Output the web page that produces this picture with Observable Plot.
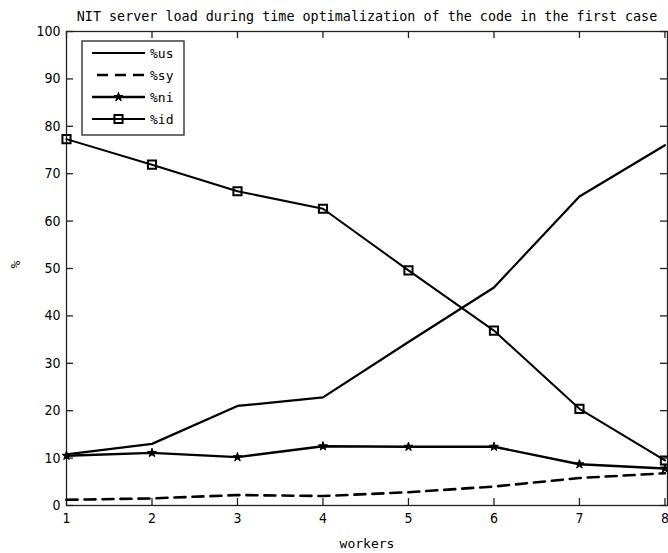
<!DOCTYPE html>
<html>
<head>
<meta charset="utf-8">
<script src="https://cdn.jsdelivr.net/npm/d3@7"></script>
<script src="https://cdn.jsdelivr.net/npm/@observablehq/plot@0.6"></script>
<style>
  html, body { margin: 0; padding: 0; background: #fff; }
  #chart svg { display: block; }
  #chart g[aria-label="x-axis tick label"] text,
  #chart g[aria-label="y-axis tick label"] text { font-family: "Liberation Sans Narrow", "DejaVu Sans Condensed", "Liberation Sans", sans-serif; font-size: 14px; }
  .mono { font-family: "DejaVu Sans Mono", "Liberation Mono", monospace; font-size: 13px; }
</style>
</head>
<body>
<div id="chart"></div>
<script>
// Server load (%) against the number of workers
const workers = [1, 2, 3, 4, 5, 6, 7, 8];
const us = [10.8, 13.0, 21.0, 22.8, 34.5, 46.0, 65.2, 76.0];
const sy = [1.2, 1.5, 2.2, 2.0, 2.8, 4.0, 5.8, 6.8];
const ni = [10.5, 11.1, 10.2, 12.5, 12.4, 12.4, 8.7, 7.8];
const id = [77.3, 71.9, 66.3, 62.6, 49.6, 36.9, 20.4, 9.5];
const xTicks = [1, 2, 3, 4, 5, 6, 7, 8];
const yTicks = [0, 10, 20, 30, 40, 50, 60, 70, 80, 90, 100];
const seriesNames = ["%us", "%sy", "%ni", "%id"];
const titleText = "NIT server load during time optimalization of the code in the first case";
const xLabel = "workers";
const yLabel = "%";

const W = 668, H = 553;
const mT = 31, mB = 48, mL = 66, mR = 1;
const fw = W - mL - mR, fh = H - mT - mB;
const tick = 7;
const ink = "#000";
const mono = "DejaVu Sans Mono, Liberation Mono, monospace";

const rows = (vals) => workers.map((w, i) => ({w, v: vals[i]}));

const chart = Plot.plot({
  width: W, height: H,
  marginTop: mT, marginBottom: mB, marginLeft: mL, marginRight: mR,
  style: {background: "#fff", color: ink, overflow: "visible"},
  x: {domain: [1, 8.03]},
  y: {domain: [0, 100]},
  marks: [
    Plot.frame({stroke: "#222", strokeWidth: 1.3}),
    // inward ticks on all four sides
    Plot.ruleX(xTicks, {x: d => d, insetTop: fh - tick, stroke: "#222", strokeWidth: 1.3}),
    Plot.ruleX(xTicks, {x: d => d, insetBottom: fh - tick, stroke: "#222", strokeWidth: 1.3}),
    Plot.ruleY(yTicks, {y: d => d, insetRight: fw - tick, stroke: "#222", strokeWidth: 1.3}),
    Plot.ruleY(yTicks, {y: d => d, insetLeft: fw - tick, stroke: "#222", strokeWidth: 1.3}),
    Plot.axisX({ticks: xTicks, tickSize: 0, tickPadding: 8, label: null, tickFormat: d => String(d)}),
    Plot.axisY({ticks: yTicks, tickSize: 0, tickPadding: 6, label: null, tickFormat: d => String(d)}),
    // axis titles
    Plot.text([xLabel], {text: d => d, frameAnchor: "bottom", dy: 38, lineAnchor: "middle", fontFamily: mono, fontSize: 13, fill: ink}),
    Plot.text([yLabel], {text: d => d, frameAnchor: "left", dx: -51, rotate: -90, lineAnchor: "middle", fontFamily: mono, fontSize: 13, fill: ink}),
    // series
    Plot.line(rows(us), {x: "w", y: "v", stroke: ink, strokeWidth: 2.2}),
    Plot.line(rows(sy), {x: "w", y: "v", stroke: ink, strokeWidth: 2.6, strokeDasharray: "11,7"}),
    Plot.line(rows(ni), {x: "w", y: "v", stroke: ink, strokeWidth: 2.4}),
    Plot.dot(rows(ni), {x: "w", y: "v", symbol: "star", r: 2.8, fill: ink, stroke: ink, strokeWidth: 1}),
    Plot.line(rows(id), {x: "w", y: "v", stroke: ink, strokeWidth: 2}),
    Plot.dot(rows(id), {x: "w", y: "v", symbol: "square", r: 4.6, fill: "none", stroke: ink, strokeWidth: 2}),
    // title
    Plot.text([titleText], {text: d => d, frameAnchor: "top", dy: -15, lineAnchor: "middle", fontFamily: mono, fontSize: 13.4, fill: ink})
  ]
});

document.getElementById("chart").appendChild(chart);

// legend box in the upper-left corner of the axes
const svg = d3.select(chart);
const lg = svg.append("g").attr("class", "legend");
const bx = 82, by = 41, bw = 102, bh = 94;
lg.append("rect").attr("x", bx).attr("y", by).attr("width", bw).attr("height", bh)
  .attr("fill", "#fff").attr("stroke", "#222").attr("stroke-width", 1.3);
const styles = [
  {w: 2.2, dash: null, sym: null},
  {w: 2.6, dash: "11,7", sym: null},
  {w: 2.4, dash: null, sym: "star"},
  {w: 2, dash: null, sym: "square"}
];
seriesNames.forEach((name, i) => {
  const yy = by + 12 + i * 22;
  const s = styles[i];
  const ln = lg.append("line").attr("x1", 92).attr("x2", 145).attr("y1", yy).attr("y2", yy)
    .attr("stroke", ink).attr("stroke-width", s.w);
  if (s.dash) ln.attr("stroke-dasharray", s.dash).attr("x1", 97);
  if (s.sym === "star") {
    lg.append("path").attr("d", d3.symbol(d3.symbolStar, Math.PI * 2.8 * 2.8)())
      .attr("transform", `translate(118.5,${yy})`).attr("fill", ink).attr("stroke", ink);
  } else if (s.sym === "square") {
    lg.append("path").attr("d", d3.symbol(d3.symbolSquare, Math.PI * 4.6 * 4.6)())
      .attr("transform", `translate(118.5,${yy})`).attr("fill", "none").attr("stroke", ink).attr("stroke-width", 2);
  }
  lg.append("text").attr("class", "mono").attr("x", 150).attr("y", yy).attr("dy", "0.35em")
    .attr("text-anchor", "start").attr("fill", ink).text(name);
});
</script>
</body>
</html>
